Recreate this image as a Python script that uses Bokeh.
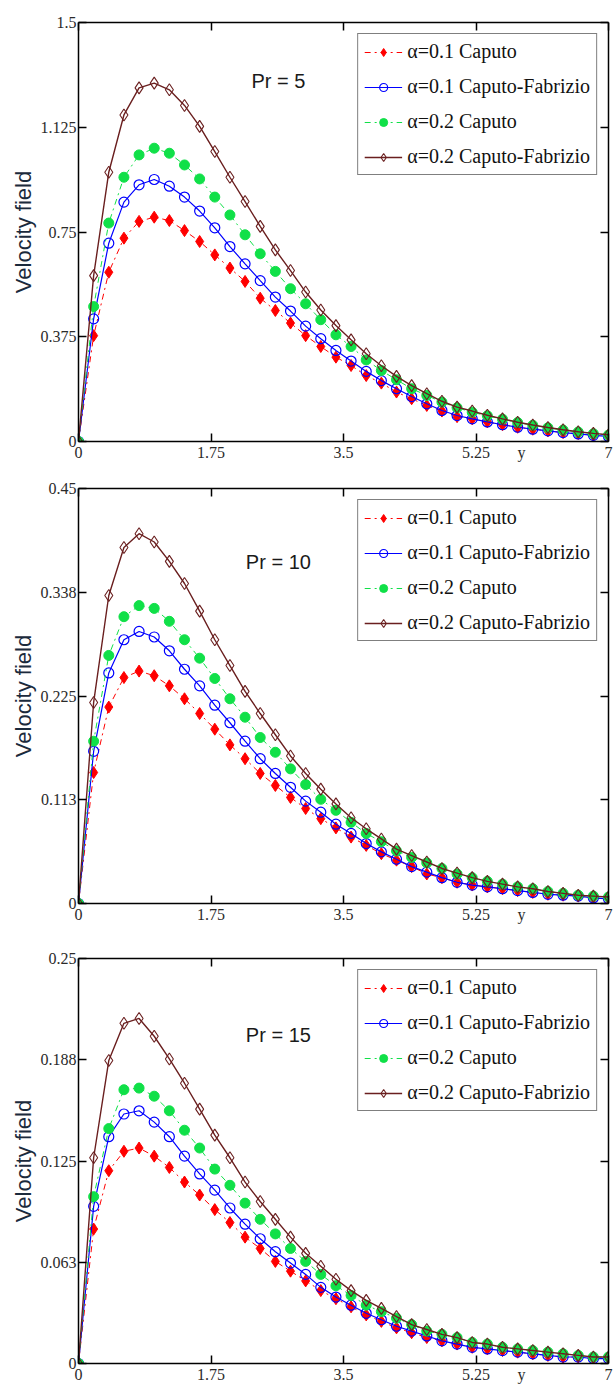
from bokeh.plotting import figure
from bokeh.models import (Range1d, LinearAxis, FixedTicker, Legend, LegendItem, Label,
                          CustomJSTickFormatter)
from bokeh.layouts import column
from bokeh.embed import file_html
from bokeh.resources import INLINE

# ---------------- data ----------------
y_pos = [0.0, 0.2, 0.4, 0.6, 0.8, 1.0, 1.2, 1.4, 1.6, 1.8, 2.0, 2.2, 2.4, 2.6, 2.8, 3.0,
         3.2, 3.4, 3.6, 3.8, 4.0, 4.2, 4.4, 4.6, 4.8, 5.0, 5.2, 5.4, 5.6, 5.8, 6.0, 6.2,
         6.4, 6.6, 6.8, 7.0]

series_labels = ["α=0.1 Caputo", "α=0.1 Caputo-Fabrizio", "α=0.2 Caputo", "α=0.2 Caputo-Fabrizio"]

# Pr = 5
pr5_a01_caputo = [0, 0.379, 0.606, 0.728, 0.788, 0.803, 0.791, 0.755, 0.716, 0.668, 0.621, 0.573,
                  0.513, 0.469, 0.424, 0.379, 0.340, 0.302, 0.272, 0.236, 0.209, 0.177, 0.153,
                  0.129, 0.109, 0.089, 0.081, 0.070, 0.060, 0.051, 0.044, 0.038, 0.032, 0.028,
                  0.022, 0.018]
pr5_a01_cf = [0, 0.439, 0.710, 0.857, 0.919, 0.938, 0.914, 0.875, 0.825, 0.765, 0.698, 0.636,
              0.576, 0.517, 0.467, 0.413, 0.368, 0.326, 0.288, 0.251, 0.218, 0.189, 0.161,
              0.135, 0.111, 0.093, 0.081, 0.070, 0.060, 0.051, 0.044, 0.038, 0.032, 0.027,
              0.022, 0.018]
pr5_a02_caputo = [0, 0.483, 0.782, 0.946, 1.026, 1.050, 1.032, 0.990, 0.940, 0.875, 0.811, 0.740,
                  0.672, 0.609, 0.547, 0.493, 0.436, 0.382, 0.340, 0.292, 0.254, 0.221, 0.189,
                  0.165, 0.141, 0.121, 0.105, 0.092, 0.080, 0.068, 0.058, 0.049, 0.041, 0.034,
                  0.028, 0.023]
pr5_a02_cf = [0, 0.594, 0.964, 1.169, 1.266, 1.283, 1.259, 1.203, 1.128, 1.038, 0.946, 0.859,
              0.770, 0.686, 0.612, 0.535, 0.471, 0.415, 0.364, 0.314, 0.271, 0.233, 0.200,
              0.171, 0.144, 0.123, 0.109, 0.094, 0.081, 0.069, 0.059, 0.050, 0.042, 0.035,
              0.029, 0.024]

# Pr = 10
pr10_a01_caputo = [0, 0.142, 0.213, 0.245, 0.252, 0.247, 0.236, 0.222, 0.206, 0.189, 0.172, 0.157,
                   0.141, 0.128, 0.115, 0.103, 0.092, 0.082, 0.072, 0.063, 0.054, 0.047, 0.040,
                   0.032, 0.028, 0.023, 0.020, 0.018, 0.016, 0.014, 0.012, 0.010, 0.009, 0.008,
                   0.006, 0.005]
pr10_a01_cf = [0, 0.165, 0.250, 0.286, 0.295, 0.289, 0.274, 0.254, 0.236, 0.215, 0.196, 0.176,
               0.157, 0.141, 0.126, 0.111, 0.099, 0.086, 0.076, 0.065, 0.056, 0.048, 0.040,
               0.034, 0.028, 0.023, 0.020, 0.018, 0.016, 0.014, 0.012, 0.010, 0.009, 0.008,
               0.006, 0.005]
pr10_a02_caputo = [0, 0.176, 0.269, 0.311, 0.323, 0.320, 0.306, 0.286, 0.266, 0.244, 0.222, 0.202,
                   0.180, 0.164, 0.146, 0.129, 0.113, 0.101, 0.088, 0.076, 0.067, 0.057, 0.050,
                   0.044, 0.038, 0.032, 0.028, 0.024, 0.021, 0.018, 0.016, 0.013, 0.011, 0.009,
                   0.008, 0.007]
pr10_a02_cf = [0, 0.218, 0.334, 0.386, 0.401, 0.392, 0.371, 0.347, 0.317, 0.286, 0.258, 0.230,
               0.206, 0.183, 0.160, 0.141, 0.124, 0.108, 0.093, 0.081, 0.070, 0.059, 0.052,
               0.045, 0.038, 0.033, 0.028, 0.024, 0.021, 0.018, 0.016, 0.013, 0.011, 0.009,
               0.008, 0.007]

# Pr = 15
pr15_a01_caputo = [0, 0.083, 0.119, 0.131, 0.133, 0.128, 0.121, 0.112, 0.104, 0.095, 0.087, 0.078,
                   0.071, 0.063, 0.057, 0.051, 0.045, 0.040, 0.035, 0.030, 0.026, 0.022, 0.019,
                   0.016, 0.014, 0.012, 0.010, 0.009, 0.008, 0.007, 0.006, 0.005, 0.004, 0.004,
                   0.003, 0.003]
pr15_a01_cf = [0, 0.097, 0.140, 0.154, 0.156, 0.149, 0.140, 0.128, 0.117, 0.107, 0.096, 0.086,
               0.077, 0.069, 0.062, 0.055, 0.047, 0.041, 0.036, 0.031, 0.027, 0.023, 0.020,
               0.017, 0.014, 0.012, 0.010, 0.009, 0.008, 0.007, 0.006, 0.005, 0.004, 0.004,
               0.003, 0.003]
pr15_a02_caputo = [0, 0.103, 0.145, 0.169, 0.170, 0.165, 0.156, 0.144, 0.133, 0.120, 0.110, 0.099,
                   0.089, 0.080, 0.071, 0.063, 0.055, 0.048, 0.042, 0.036, 0.032, 0.028, 0.024,
                   0.020, 0.018, 0.016, 0.013, 0.012, 0.010, 0.009, 0.008, 0.007, 0.006, 0.005,
                   0.004, 0.004]
pr15_a02_cf = [0, 0.127, 0.187, 0.210, 0.213, 0.202, 0.188, 0.173, 0.157, 0.141, 0.127, 0.112,
               0.100, 0.089, 0.078, 0.068, 0.060, 0.052, 0.045, 0.039, 0.034, 0.029, 0.024,
               0.021, 0.018, 0.016, 0.013, 0.012, 0.010, 0.009, 0.008, 0.007, 0.006, 0.005,
               0.004, 0.004]

x_ticks = [0, 1.75, 3.5, 5.25, 7]
x_tick_labels = ["0", "1.75", "3.5", "5.25", "7"]
x_axis_title = "y"
x_axis_title_pos = 5.85
pr5_y_ticks = [0, 0.375, 0.75, 1.125, 1.5]
pr5_y_labels = ["0", "0.375", "0.75", "1.125", "1.5"]
pr10_y_ticks = [0, 0.1125, 0.225, 0.3375, 0.45]
pr10_y_labels = ["0", "0.113", "0.225", "0.338", "0.45"]
pr15_y_ticks = [0, 0.0625, 0.125, 0.1875, 0.25]
pr15_y_labels = ["0", "0.063", "0.125", "0.188", "0.25"]

# ---------------- styles ----------------
TICK_FONT = "Liberation Serif"
SANS = "Liberation Sans"
RED = "#ff0000"
BLUE = "#0000ff"
GREEN = "#10e048"
BROWN = "#6a1f1f"


def frame_axis(ax, ticks):
    """Axis drawn on the frame: line + inward ticks, no labels."""
    ax.ticker = FixedTicker(ticks=ticks)
    ax.axis_line_color = "black"
    ax.axis_line_width = 1.5
    ax.major_tick_line_color = "black"
    ax.major_tick_line_width = 1.5
    ax.major_tick_in = 8
    ax.major_tick_out = 0
    ax.minor_tick_line_color = None
    ax.formatter = CustomJSTickFormatter(code="return ''")
    ax.major_label_text_font_size = "1px"
    ax.major_label_standoff = 0


def label_axis(ax, ticks, labels, standoff):
    """Axis that only carries tick labels."""
    ax.ticker = FixedTicker(ticks=ticks)
    ax.axis_line_color = None
    ax.major_tick_line_color = None
    ax.minor_tick_line_color = None
    ax.major_tick_in = 0
    ax.major_tick_out = 0
    ax.major_label_text_font = TICK_FONT
    ax.major_label_text_font_size = "16px"
    ax.major_label_text_color = "#2a2a2a"
    ax.major_label_standoff = standoff
    ax.major_label_overrides = {t: l for t, l in zip(ticks, labels)}


def make_panel(values, y_max, y_ticks, y_labels, pr_text, pr_y, frame_h, b_top, b_bottom):
    p = figure(width=614, height=b_top + frame_h + b_bottom,
               output_backend="svg", toolbar_location=None,
               x_range=Range1d(0, 7), y_range=Range1d(0, y_max),
               x_axis_location=None, y_axis_location=None,
               min_border_left=78, min_border_right=6,
               min_border_top=b_top, min_border_bottom=b_bottom)
    p.xgrid.visible = False
    p.ygrid.visible = False
    p.outline_line_color = None
    p.background_fill_color = "white"
    p.border_fill_color = "white"

    # frame axes (all four sides, inward ticks)
    for side, ticks in (("below", x_ticks), ("left", y_ticks), ("above", x_ticks), ("right", y_ticks)):
        ax = LinearAxis()
        frame_axis(ax, ticks)
        p.add_layout(ax, side)

    # tick-label axes
    xlab = LinearAxis()
    label_axis(xlab, x_ticks + [x_axis_title_pos], x_tick_labels + [x_axis_title], 2)
    p.add_layout(xlab, "below")

    ylab = LinearAxis()
    label_axis(ylab, y_ticks, y_labels, 2)
    ylab.axis_label = "Velocity field"
    ylab.axis_label_text_font = SANS
    ylab.axis_label_text_font_size = "22px"
    ylab.axis_label_text_font_style = "normal"
    ylab.axis_label_text_color = "#1b2a3c"
    ylab.axis_label_standoff = 2
    p.add_layout(ylab, "left")

    a01c, a01cf, a02c, a02cf = values
    items = []

    l1 = p.line(y_pos, a01c, line_color=RED, line_width=1, line_dash="dashdot")
    s1 = p.scatter(y_pos, a01c, marker="diamond", size=12, fill_color=RED, line_color=RED)
    items.append(LegendItem(label=series_labels[0], renderers=[l1, s1]))

    l2 = p.line(y_pos, a01cf, line_color=BLUE, line_width=1.2)
    s2 = p.scatter(y_pos, a01cf, marker="circle", size=10, fill_color=None, line_color=BLUE,
                   line_width=1.2)
    items.append(LegendItem(label=series_labels[1], renderers=[l2, s2]))

    l3 = p.line(y_pos, a02c, line_color=GREEN, line_width=1, line_dash="dashdot")
    s3 = p.scatter(y_pos, a02c, marker="circle", size=10, fill_color=GREEN, line_color=GREEN)
    items.append(LegendItem(label=series_labels[2], renderers=[l3, s3]))

    l4 = p.line(y_pos, a02cf, line_color=BROWN, line_width=1.4)
    s4 = p.scatter(y_pos, a02cf, marker="diamond", size=12, fill_color=None, line_color=BROWN,
                   line_width=1.1)
    items.append(LegendItem(label=series_labels[3], renderers=[l4, s4]))

    legend = Legend(items=items, location="top_right", margin=11,
                    label_text_font=TICK_FONT, label_text_font_size="20px",
                    label_text_color="#111111",
                    glyph_width=38, glyph_height=20, label_height=20, label_standoff=5,
                    spacing=12, padding=6,
                    border_line_color="black", border_line_width=1.5,
                    background_fill_color="white", background_fill_alpha=1.0)
    p.add_layout(legend)

    p.add_layout(Label(x=2.64, y=pr_y, text=pr_text, text_font=SANS, text_font_size="20px",
                       text_color="#1a1a1a", text_align="center", text_baseline="middle"))
    return p


p1 = make_panel([pr5_a01_caputo, pr5_a01_cf, pr5_a02_caputo, pr5_a02_cf], 1.5,
                pr5_y_ticks, pr5_y_labels, "Pr = 5", 1.29, 419, 22, 33)
p2 = make_panel([pr10_a01_caputo, pr10_a01_cf, pr10_a02_caputo, pr10_a02_cf], 0.45,
                pr10_y_ticks, pr10_y_labels, "Pr = 10", 0.370, 415, 14, 33)
p3 = make_panel([pr15_a01_caputo, pr15_a01_cf, pr15_a02_caputo, pr15_a02_cf], 0.25,
                pr15_y_ticks, pr15_y_labels, "Pr = 15", 0.2025, 405, 22, 25)

layout = column(p1, p2, p3, spacing=0)
open("out.html", "w").write(file_html(layout, INLINE))
